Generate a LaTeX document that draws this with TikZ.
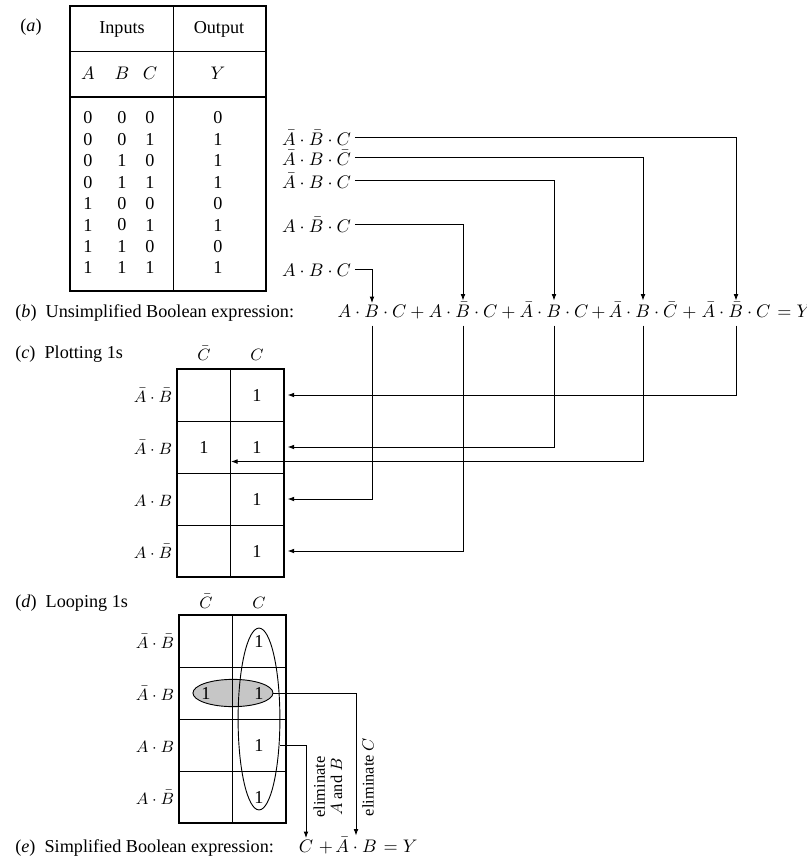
\documentclass[tikz,border=0pt]{standalone}
\usepackage{fontspec}
\setmainfont{Liberation Serif}
\usetikzlibrary{arrows.meta, shapes.geometric, calc, backgrounds}

\begin{document}
\begin{tikzpicture}[
  x=0.55pt, y=-0.55pt,
  conn/.style={-{Latex[length=3.6pt, width=2.6pt]}, line width=0.5pt},
  vconn/.style={conn, shorten <=4pt, shorten >=2pt},
  frame/.style={line width=1.1pt},
  rule/.style={line width=0.5pt},
  cell/.style={draw, line width=0.5pt, minimum width=29.15pt, minimum height=28.6pt, inner sep=0pt},
  one/.style={inner sep=1pt},
  term/.style={inner sep=2pt, anchor=base west},
  expr/.style={inner sep=0.6pt, anchor=base},
  maplbl/.style={font=\small, anchor=base},
  part/.style={anchor=base west, inner sep=0pt},
  loop/.style={ellipse, draw, line width=0.5pt, inner sep=0pt},
  rot/.style={rotate=90, align=center, font=\fontsize{9}{9.5}\selectfont}
]
\useasboundingbox (0,0) rectangle (807,862);

\node[part] (pa) at (20,32) {(\textit{a})};
\draw[frame] (70,6) rectangle (266,291);
\draw[rule] (70,51) -- (266,51);
\draw[frame] (70,97) -- (266,97);
\draw[rule] (173,6) -- (173,291);
\node (inputs) at (122,29) {Inputs};
\node (output) at (219,29) {Output};
\node (hA) at (88,73) {$A$};
\node (hB) at (122,73) {$B$};
\node (hC) at (150,73) {$C$};
\node (hY) at (218,73) {$Y$};
\foreach \a/\b/\c/\y [count=\i from 0] in {0/0/0/0,0/0/1/1,0/1/0/1,0/1/1/1,1/0/0/0,1/0/1/1,1/1/0/0,1/1/1/1} {
  \node (a\i) at (88,118+21.4*\i) {\a};
  \node (b\i) at (122,118+21.4*\i) {\b};
  \node (c\i) at (150,118+21.4*\i) {\c};
  \node (y\i) at (218,118+21.4*\i) {\y};
}

\node[term] (lt5) at (278,145) {$\bar{A}\cdot\bar{B}\cdot C$};
\node[term] (lt4) at (278,165) {$\bar{A}\cdot B\cdot\bar{C}$};
\node[term] (lt3) at (278,188) {$\bar{A}\cdot B\cdot C$};
\node[term] (lt2) at (278,232) {$A\cdot\bar{B}\cdot C$};
\node[term] (lt1) at (278,276) {$A\cdot B\cdot C$};

\node[part] (pb) at (15,317) {(\textit{b})\enspace Unsimplified Boolean expression:};
\node[expr] (e1) at (372,317) {$A\cdot B\cdot C$};
\node[expr] (e2) at (463,317) {$A\cdot\bar{B}\cdot C$};
\node[expr] (e3) at (554,317) {$\bar{A}\cdot B\cdot C$};
\node[expr] (e4) at (643,317) {$\bar{A}\cdot B\cdot\bar{C}$};
\node[expr] (e5) at (736,317) {$\bar{A}\cdot\bar{B}\cdot C$};
\foreach \x [count=\k] in {417.5,508.5,598.5,689.5}
  \node[expr] (plus\k) at (\x,317) {$+$};
\node[expr, anchor=base west, inner sep=0pt] (eqY) at (e5.base east) {${}=Y$};

\draw[conn] (lt5.east) -| (e5.north);
\draw[conn] (lt4.east) -| (e4.north);
\draw[conn] (lt3.east) -| (e3.north);
\draw[conn] (lt2.east) -| (e2.north);
\draw[conn] (lt1.east) -| (e1.north);

\node[part] (pc) at (15,358) {(\textit{c})\enspace Plotting 1s};
\node[maplbl] (pcbar) at (204,360) {$\bar{C}$};
\node[maplbl] (pcc) at (257,360) {$C$};
\foreach \r in {1,...,4} {
  \node[cell] (p\r1) at (204,343+52*\r) {};
  \node[cell] (p\r2) at (257,343+52*\r) {};
}
\foreach \lbl [count=\r] in {{\bar{A}\cdot\bar{B}}, {\bar{A}\cdot B}, {A\cdot B}, {A\cdot\bar{B}}}
  \node[maplbl] (pr\r) at (153,350+52*\r) {$\lbl$};
\draw[frame] (p11.north west) rectangle (p42.south east);
\node[one] (po12) at (p12) {1};
\node[one] (po21) at (p21) {1};
\node[one] (po22) at (p22) {1};
\node[one] (po32) at (p32) {1};
\node[one] (po42) at (p42) {1};

\draw[vconn] (e5.south) |- (p12.east);
\draw[vconn] (e3.south) |- (p22.east);
\draw[conn, shorten <=4pt] (e4.south) |- ([yshift=-8pt]p21.east);
\draw[vconn] (e1.south) |- (p32.east);
\draw[vconn] (e2.south) |- (p42.east);

\node[part] (pd) at (15,607) {(\textit{d})\enspace Looping 1s};
\node[maplbl] (ldbar) at (206,608) {$\bar{C}$};
\node[maplbl] (ldc) at (259,608) {$C$};
\foreach \r in {1,...,4} {
  \node[cell] (l\r1) at (206,589+52*\r) {};
  \node[cell] (l\r2) at (259,589+52*\r) {};
}
\foreach \lbl [count=\r] in {{\bar{A}\cdot\bar{B}}, {\bar{A}\cdot B}, {A\cdot B}, {A\cdot\bar{B}}}
  \node[maplbl] (lr\r) at (155,596+52*\r) {$\lbl$};
\draw[frame] (l11.north west) rectangle (l42.south east);
\begin{scope}[on background layer]
  \node[loop, fill=gray!45, minimum width=44pt, minimum height=15pt] (loopab) at (l21.east) {};
\end{scope}
\node[one] (lo12) at (l12) {1};
\node[one] (lo21) at (l21) {1};
\node[one] (lo22) at (l22) {1};
\node[one] (lo32) at (l32) {1};
\node[one] (lo42) at (l42) {1};
\node[loop, minimum width=23pt, minimum height=100pt] (loopc) at ($(l12)!0.5!(l42)$) {};

\node[part] (pe) at (15,852) {(\textit{e})\enspace Simplified Boolean expression:};
\node[expr] (sC) at (306,852) {$C$};
\node[expr] (splus) at (326,852) {$+$};
\node[expr] (sAB) at (356,852) {$\bar{A}\cdot B$};
\node[expr, anchor=base west, inner sep=0pt] (sY) at (sAB.base east) {${}=Y$};

\draw[conn] (loopc.east |- lo32) -| (sC.north);
\draw[conn] (loopab.east) -| (sAB.north);
\node[rot] (elimab) at (328,787) {eliminate\\$A$ and $B$};
\node[rot] (elimc) at (368,777) {eliminate $C$};
\end{tikzpicture}
\end{document}
